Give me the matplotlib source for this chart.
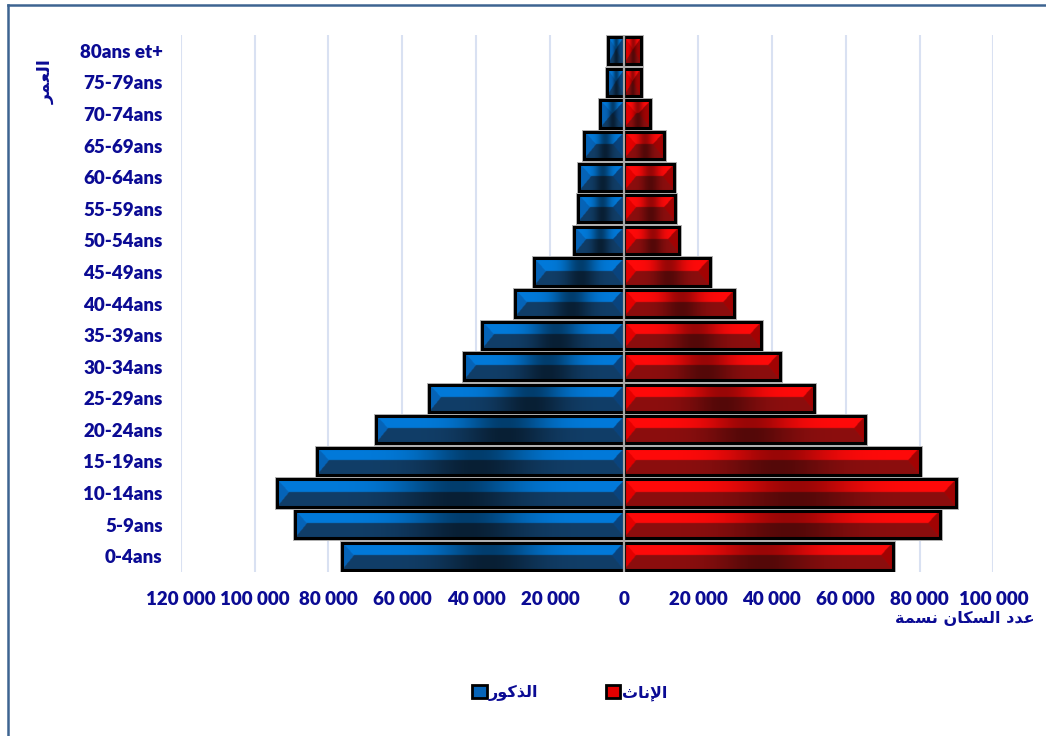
import numpy as np
import matplotlib
matplotlib.use("Agg")
import matplotlib.pyplot as plt
from matplotlib.patches import Patch
from matplotlib.lines import Line2D
from matplotlib.ticker import FuncFormatter

# ---------------------------------------------------------------- data
age_groups = ["0-4ans", "5-9ans", "10-14ans", "15-19ans", "20-24ans", "25-29ans",
              "30-34ans", "35-39ans", "40-44ans", "45-49ans", "50-54ans", "55-59ans",
              "60-64ans", "65-69ans", "70-74ans", "75-79ans", "80ans et+"]
males = [76200, 89100, 94000, 83100, 67200, 52800, 43400, 38500, 29400, 24300,
         13600, 12500, 12200, 10900, 6600, 4700, 4300]
females = [72800, 85500, 89800, 80100, 65300, 51500, 42200, 37100, 29900, 23200,
           14900, 13900, 13600, 10900, 7100, 4600, 4700]
x_ticks = [-120000, -100000, -80000, -60000, -40000, -20000, 0,
           20000, 40000, 60000, 80000, 100000]

label_male = "الذكور"
label_female = "الإناث"
label_x = "عدد السكان نسمة"
label_y = "العمر"

# ------------------------------------------------- arabic shaping helper
# (isolated, final, initial, medial) presentation forms
ARABIC_FORMS = {
    "ا": ("\uFE8D", "\uFE8E", None, None),
    "إ": ("\uFE87", "\uFE88", None, None),
    "د": ("\uFEA9", "\uFEAA", None, None),
    "ذ": ("\uFEAB", "\uFEAC", None, None),
    "ر": ("\uFEAD", "\uFEAE", None, None),
    "و": ("\uFEED", "\uFEEE", None, None),
    "ة": ("\uFE93", "\uFE94", None, None),
    "ث": ("\uFE99", "\uFE9A", "\uFE9B", "\uFE9C"),
    "س": ("\uFEB1", "\uFEB2", "\uFEB3", "\uFEB4"),
    "ع": ("\uFEC9", "\uFECA", "\uFECB", "\uFECC"),
    "ك": ("\uFED9", "\uFEDA", "\uFEDB", "\uFEDC"),
    "ل": ("\uFEDD", "\uFEDE", "\uFEDF", "\uFEE0"),
    "م": ("\uFEE1", "\uFEE2", "\uFEE3", "\uFEE4"),
    "ن": ("\uFEE5", "\uFEE6", "\uFEE7", "\uFEE8"),
}
LAM_ALEF = {"ا": ("\uFEFB", "\uFEFC"), "إ": ("\uFEF9", "\uFEFA")}


def shape_arabic(text):
    # merge lam + alef into ligature tokens
    tokens = []
    i = 0
    while i < len(text):
        if text[i] == "ل" and i + 1 < len(text) and text[i + 1] in LAM_ALEF:
            tokens.append(("LA", text[i + 1]))
            i += 2
        else:
            tokens.append(("C", text[i]))
            i += 1

    def dual(tok):
        return tok is not None and tok[0] == "C" and tok[1] in ARABIC_FORMS \
            and ARABIC_FORMS[tok[1]][2] is not None

    def letter(tok):
        return tok is not None and (tok[0] == "LA" or tok[1] in ARABIC_FORMS)

    out = []
    for k, tok in enumerate(tokens):
        prev = tokens[k - 1] if k > 0 else None
        nxt = tokens[k + 1] if k + 1 < len(tokens) else None
        if not letter(tok):
            out.append(tok[1])
            continue
        jp = dual(prev)
        if tok[0] == "LA":
            out.append(LAM_ALEF[tok[1]][1 if jp else 0])
            continue
        iso, fin, ini, med = ARABIC_FORMS[tok[1]]
        jn = ini is not None and letter(nxt)
        if jp and jn:
            out.append(med)
        elif jp:
            out.append(fin)
        elif jn:
            out.append(ini)
        else:
            out.append(iso)
    return "".join(out)[::-1]


# ---------------------------------------------------------------- style
W, H, DPI = 1046, 736, 100
navy = "#0b0b94"
latin = ["Lato", "DejaVu Sans"]
arabic = ["DejaVu Sans"]

fig = plt.figure(figsize=(W / DPI, H / DPI), dpi=DPI)
fig.patch.set_facecolor("white")
ax_left, ax_bottom, ax_w, ax_h = 0.1727, 0.2228, 0.7771, 0.7296
ax = fig.add_axes([ax_left, ax_bottom, ax_w, ax_h])

y = np.arange(len(age_groups))
bar_h = 0.86
xmin, xmax = -120000, 100000
ymin, ymax = -0.5, len(age_groups) - 0.5
ax.set_xlim(xmin, xmax)
ax.set_ylim(ymin, ymax)

px_per_x = ax_w * W / (xmax - xmin)
px_per_y = ax_h * H / (ymax - ymin)

# facet colours: top, bottom, left, right
blue_facets = [(2, 122, 218), (17, 62, 104), (6, 100, 184), (10, 68, 126)]
red_facets = [(255, 10, 10), (140, 14, 14), (228, 0, 0), (162, 4, 4)]


def bevel_image(w_px, h_px, facets, depth, bevel_px=12.0, ridge=0.47):
    nx = max(int(w_px * 2), 6)
    ny = max(int(h_px * 2), 6)
    xs = (np.arange(nx) + 0.5) / nx
    ys = (np.arange(ny) + 0.5) / ny
    X, Y = np.meshgrid(xs * w_px, ys * h_px)
    b = min(bevel_px, w_px / 2.0)
    d = np.stack([Y / (h_px * ridge),
                  (h_px - Y) / (h_px * (1 - ridge)),
                  X / b,
                  (w_px - X) / b])
    idx = np.argmin(d, axis=0)
    cols = np.array(facets, dtype=float) / 255.0
    img = cols[idx]
    shade = 1.0 - depth * np.exp(-((xs - 0.52) / 0.17) ** 2)
    img = img * shade[None, :, None]
    return np.clip(img, 0, 1)


def draw_series(values, sign, facets, depth):
    vals = [sign * v for v in values]
    # light outer ring
    ax.barh(y, vals, height=bar_h, left=0, facecolor="none",
            edgecolor="#b4b4b4", linewidth=3.6, zorder=1.5)
    bars = ax.barh(y, vals, height=bar_h, left=0, facecolor="none",
                   edgecolor="black", linewidth=2.2, zorder=3)
    for rect in bars.patches:
        x0 = min(rect.get_x(), rect.get_x() + rect.get_width())
        x1 = max(rect.get_x(), rect.get_x() + rect.get_width())
        y0 = rect.get_y()
        y1 = y0 + rect.get_height()
        img = bevel_image((x1 - x0) * px_per_x, (y1 - y0) * px_per_y,
                          facets, depth)
        im = ax.imshow(img, extent=[x0, x1, y0, y1], origin="upper",
                       aspect="auto", interpolation="bilinear", zorder=2)
        im.set_clip_path(rect)
    return bars


draw_series(males, -1, blue_facets, 0.5)
draw_series(females, 1, red_facets, 0.4)
ax.set_xlim(xmin, xmax)
ax.set_ylim(ymin, ymax)

# grid and zero axis
for xt in x_ticks:
    if xt != 0:
        ax.axvline(xt, color="#d9e1f2", linewidth=1.5, zorder=0)
ax.axvline(0, color="#a6a6a6", linewidth=1.6, zorder=5)

for s in ax.spines.values():
    s.set_visible(False)

ax.set_xticks(x_ticks)
ax.xaxis.set_major_formatter(
    FuncFormatter(lambda v, p: f"{abs(int(round(v))):,}".replace(",", " ")))
ax.set_yticks(y)
ax.set_yticklabels(age_groups)
ax.tick_params(axis="both", length=0, colors=navy)
ax.tick_params(axis="x", pad=14)
ax.tick_params(axis="y", pad=13)
for lab in ax.get_xticklabels() + ax.get_yticklabels():
    lab.set_fontfamily(latin)
    lab.set_fontweight("heavy")
    lab.set_fontsize(13.5)
    lab.set_color(navy)

# axis titles
ax.set_xlabel(shape_arabic(label_x), family=arabic, fontweight="bold",
              fontsize=11.5, color=navy, ha="right", va="center")
ax.xaxis.set_label_coords(1.051, -0.0857)
ax.set_ylabel(shape_arabic(label_y), family=arabic, fontweight="bold",
              fontsize=12.5, color=navy, rotation=90, ha="center", va="center")
ax.yaxis.set_label_coords(-0.166, 0.914)

# legend
handles = [Patch(facecolor=np.array(blue_facets[2]) / 255, edgecolor="black", linewidth=2),
           Patch(facecolor=np.array(red_facets[2]) / 255, edgecolor="black", linewidth=2)]
leg = fig.legend(handles, [shape_arabic(label_male), shape_arabic(label_female)],
                 loc="center", bbox_to_anchor=(570 / W, 1 - 693 / H), ncol=2,
                 frameon=False, handlelength=0.9, handleheight=0.9,
                 handletextpad=0.15, columnspacing=4.2,
                 prop={"family": arabic, "weight": "bold", "size": 11.5})
for t in leg.get_texts():
    t.set_color(navy)

# outer chart frame (top and left edges)
frame_col = "#3d6491"
fig.add_artist(Line2D([8 / W, 1], [1 - 5 / H, 1 - 5 / H], color=frame_col,
                      linewidth=1.8, transform=fig.transFigure))
fig.add_artist(Line2D([8 / W, 8 / W], [0, 1 - 5 / H], color=frame_col,
                      linewidth=1.8, transform=fig.transFigure))

fig.savefig("out.png", dpi=DPI, facecolor="white")
